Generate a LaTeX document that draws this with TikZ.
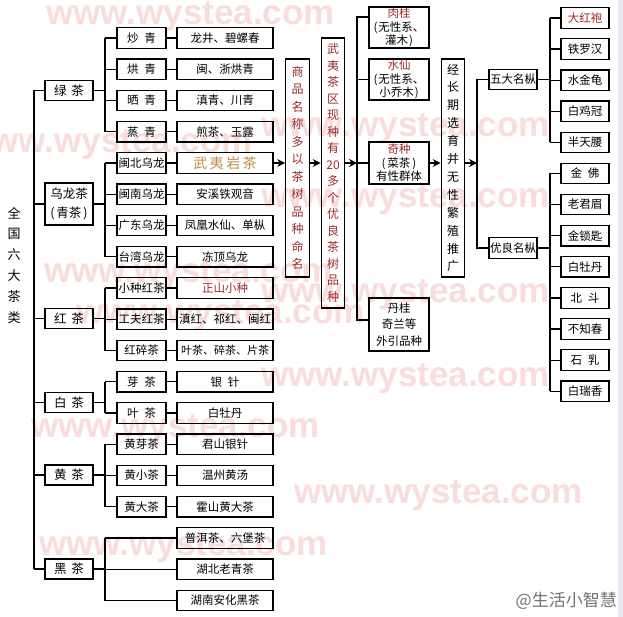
\documentclass[tikz,border=0pt]{standalone}
\usepackage{fontspec}
\setmainfont{Noto Sans CJK SC}
\newfontfamily\wmfont{Liberation Sans}
\usetikzlibrary{arrows.meta}
\definecolor{dred}{RGB}{160,40,40}
\definecolor{gold}{RGB}{192,140,70}
\definecolor{wmpink}{RGB}{250,220,220}
\definecolor{strip}{RGB}{228,232,238}
\begin{document}
\begin{tikzpicture}[x=1pt,y=-1pt,
  bx/.style={draw=black,line width=1.2pt,inner sep=0pt,align=center},
  mid/.style={bx,minimum width=49pt,minimum height=20.5pt,font=\fontsize{11.5}{12}\selectfont},
  rgt/.style={bx,minimum width=96pt,minimum height=20.5pt,font=\fontsize{11.5}{12}\selectfont},
  cat/.style={bx,minimum width=48pt,minimum height=20pt,font=\fontsize{12.5}{13}\selectfont},
  far/.style={bx,minimum width=48pt,minimum height=20.5pt,font=\fontsize{11.5}{12}\selectfont},
  vbox/.style={bx,minimum width=23.5pt},
  ln/.style={line width=1.2pt},
  arr/.style={line width=1.2pt,-{Stealth[length=8pt,width=8pt]}},
  wm/.style={text=wmpink,font=\wmfont\bfseries\fontsize{35}{35}\selectfont,inner sep=0pt,anchor=base east}
]
\useasboundingbox (0,0) rectangle (623,617);
\fill[white] (0,0) rectangle (623,617);
\fill[strip] (618,0) rectangle (623,617);
% watermarks
\foreach [count=\k] \xe/\yb in {335/25,550/137,253/153,550/208,333/283,550/302,365/323,550/386,320/437,583/503,328/555}
  \node[wm] (wm\k) at (\xe,\yb) {www.wystea.com};
\node[anchor=south east,inner sep=0pt,text=black!55,font=\fontsize{17}{17}\selectfont] (wb) at (617,610) {@生活小智慧};
% left title
\node[align=center,inner sep=0pt,font=\fontsize{13}{20.8}\selectfont] (qg) at (14,265) {全\\国\\六\\大\\茶\\类};
% categories
\node[cat] (c1) at (69,90.5) {绿\hspace{.4em}茶};
\node[cat,minimum height=42pt,font=\fontsize{12.5}{19}\selectfont] (c2) at (69,204) {乌龙茶\\(\hspace{2pt}青茶\hspace{2pt})};
\node[cat] (c3) at (69,318.5) {红\hspace{.4em}茶};
\node[cat] (c4) at (69,402.5) {白\hspace{.4em}茶};
\node[cat] (c5) at (69,475) {黄\hspace{.4em}茶};
\node[cat] (c6) at (69,569) {黑\hspace{.4em}茶};
% middle column
\foreach \i/\t in {0/{炒\hspace{.5em}青},1/{烘\hspace{.5em}青},2/{晒\hspace{.5em}青},3/{蒸\hspace{.5em}青},
  4/闽北乌龙,5/闽南乌龙,6/广东乌龙,7/台湾乌龙,8/小种红茶,9/工夫红茶,10/红碎茶,
  11/{芽\hspace{.5em}茶},12/{叶\hspace{.5em}茶},13/黄芽茶,14/黄小茶,15/黄大茶}
  \node[mid] (m\i) at (141.5,{38+31.25*\i}) {\t};
% right column
\foreach \i/\t in {0/龙井、碧螺春,1/闽、浙烘青,2/滇青、川青,3/煎茶、玉露,
  4/{\fontsize{14}{14}\selectfont\color{gold}武\hspace{2.5pt}夷\hspace{2.5pt}岩\hspace{2.5pt}茶},
  5/安溪铁观音,6/凤凰水仙、单枞,7/冻顶乌龙,8/{\color{dred}正山小种},9/滇红、祁红、闽红,
  10/{\fontsize{11}{12}\selectfont 叶茶、碎茶、片茶},11/{银\hspace{.5em}针},12/白牡丹,13/君山银针,
  14/温州黄汤,15/霍山黄大茶,16/普洱茶、六堡茶,17/湖北老青茶,18/湖南安化黑茶}
  \node[rgt] (r\i) at (225,{38+31.25*\i}) {\t};
% vertical boxes
\node[vbox,minimum height=218pt,text=dred,font=\fontsize{12}{17.5}\selectfont] (sp) at (297.5,168)
  {商\\品\\名\\称\\多\\以\\茶\\树\\品\\种\\命\\名};
\node[vbox,minimum height=270pt,text=dred,font=\fontsize{12}{16.5}\selectfont] (wq) at (333,173)
  {武\\夷\\茶\\区\\现\\种\\有\\20\\多\\个\\优\\良\\茶\\树\\品\\种};
\node[vbox,minimum height=218pt,font=\fontsize{12}{17.9}\selectfont] (jc) at (453,168)
  {经\\长\\期\\选\\育\\并\\无\\性\\繁\\殖\\推\\广};
% variety boxes
\node[bx,minimum width=60pt,minimum height=41pt,font=\fontsize{11.5}{13.5}\selectfont] (rg) at (399,27.5)
  {{\color{dred}肉桂}\\(\hspace{1pt}无性系、\\灌木\hspace{1pt})};
\node[bx,minimum width=60pt,minimum height=41pt,font=\fontsize{11.5}{13.5}\selectfont] (sx) at (399,79.5)
  {{\color{dred}水仙}\\(\hspace{1pt}无性系、\\小乔木\hspace{1pt})};
\node[bx,minimum width=60pt,minimum height=42pt,font=\fontsize{11.5}{13.5}\selectfont] (qz) at (399,163)
  {{\color{dred}奇种}\\(\hspace{2pt}菜茶\hspace{2pt})\\有性群体};
\node[bx,minimum width=60pt,minimum height=53pt,font=\fontsize{11.5}{16.5}\selectfont] (dg) at (399,324.5)
  {丹桂\\奇兰等\\外引品种};
% groups
\node[far] (g1) at (513,79.5) {五大名枞};
\node[far] (g2) at (513,248) {优良名枞};
\foreach \i/\t in {0/{\color{dred}大红袍},1/铁罗汉,2/水金龟,3/白鸡冠,4/半天腰,5/{金\hspace{.5em}佛},
  6/老君眉,7/金锁匙,8/白牡丹,9/{北\hspace{.5em}斗},10/不知春,11/{石\hspace{.5em}乳},12/白瑞香}
  \node[far] (f\i) at (585,{18+31.1*\i}) {\t};
% bus coordinates
\coordinate (b0) at (34,0);
\coordinate (b1) at (105,0);
\coordinate (b2) at (357,0);
\coordinate (b3) at (477,0);
\coordinate (b4) at (550,0);
% main bus
\draw[ln] (c1.west -| b0) -- (c6.west -| b0);
\foreach \c in {c1,c2,c3,c4,c5,c6} \draw[ln] (\c.west -| b0) -- (\c.west);
% category groups
\foreach \c/\a/\b in {c1/0/3,c2/4/7,c3/8/10,c4/11/12,c5/13/15} {
  \draw[ln] (\c.east) -- (\c.east -| b1);
  \draw[ln] (m\a.west -| b1) -- (m\b.west -| b1);
}
\foreach \i in {0,...,15} {
  \draw[ln] (m\i.west -| b1) -- (m\i.west);
  \draw[ln] (m\i.east) -- (r\i.west);
}
\draw[ln] (c6.east) -- (c6.east -| b1);
\draw[ln] (r16.west -| b1) -- (r18.west -| b1);
\foreach \i in {16,17,18} \draw[ln] (r\i.west -| b1) -- (r\i.west);
% arrows chain
\draw[arr] (r4.east) -- (r4.east -| sp.west);
\draw[arr] (r4.east -| sp.east) -- (r4.east -| wq.west);
\draw[arr] (r4.east -| wq.east) -- (r4.east -| b2);
\draw[ln] ([yshift=10.5pt]rg.west) -- ([yshift=10.5pt]rg.west -| b2) |- ([yshift=4.5pt]dg.west);
\draw[ln] (sx.west -| b2) -- (sx.west);
\draw[ln] (qz.west -| b2) -- (qz.west);
\draw[arr] (qz.east) -- (qz.east -| jc.west);
\draw[arr] (qz.east -| jc.east) -- (qz.east -| b3);
\draw[ln] (g1.west) -- (g1.west -| b3) -- (g2.west -| b3) -- (g2.west);
\draw[ln] (g1.east) -- (g1.east -| b4);
\draw[ln] (f0.west -| b4) -- (f4.west -| b4);
\draw[ln] (g2.east) -- (g2.east -| b4);
\draw[ln] (f5.west -| b4) -- (f12.west -| b4);
\foreach \i in {0,...,12} \draw[ln] (f\i.west -| b4) -- (f\i.west);
\end{tikzpicture}
\end{document}
